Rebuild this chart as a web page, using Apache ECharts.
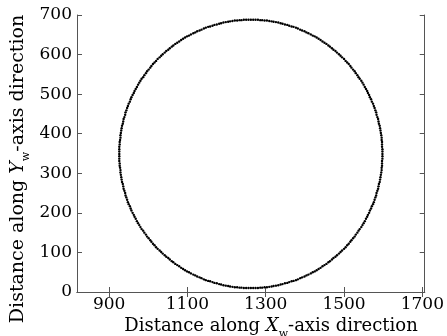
<!DOCTYPE html>
<html>
<head>
<meta charset="utf-8">
<script src="https://cdn.jsdelivr.net/npm/echarts@6/dist/echarts.min.js"></script>
<style>
html,body{margin:0;padding:0;background:#fff;}
#chart{width:447px;height:336px;}
</style>
</head>
<body>
<div id="chart"></div>
<script>
// Point positions (traced around the ring)
const xValues = [
1598,1598,1598,1597,1597,1597,1596,1596,1595,1594,
1593,1592,1591,1589,1588,1587,1585,1583,1582,1580,
1578,1576,1574,1571,1569,1566,1564,1561,1559,1556,
1553,1550,1547,1544,1540,1537,1534,1530,1527,1523,
1519,1516,1512,1508,1504,1500,1495,1491,1487,1482,
1478,1473,1469,1464,1460,1455,1450,1445,1440,1435,
1430,1425,1420,1415,1409,1404,1399,1393,1388,1382,
1377,1371,1366,1360,1355,1349,1343,1338,1332,1326,
1320,1315,1309,1303,1297,1291,1286,1280,1274,1268,
1262,
1256,1250,1244,1238,1233,1227,1221,1215,1209,1204,
1198,1192,1186,1181,1175,1169,1164,1158,1153,1147,
1142,1136,1131,1125,1120,1115,1109,1104,1099,1094,
1089,1084,1079,1074,1069,1064,1060,1055,1051,1046,
1042,1037,1033,1029,1024,1020,1016,1012,1008,1005,
1001,997,994,990,987,983,980,977,974,971,
968,965,963,960,957,955,953,950,948,946,
944,942,941,939,937,936,935,933,932,931,
930,929,929,928,927,927,926,926,926,926,
926,926,926,927,927,928,929,929,930,931,
932,933,935,936,937,939,941,942,944,946,
948,950,953,955,957,960,963,965,968,971,
974,977,980,983,987,990,994,997,1001,1005,
1008,1012,1016,1020,1024,1029,1033,1037,1042,1046,
1051,1055,1060,1064,1069,1074,1079,1084,1089,1094,
1099,1104,1109,1115,1120,1125,1131,1136,1142,1147,
1153,1158,1164,1169,1175,1181,1186,1192,1198,1204,
1209,1215,1221,1227,1233,1238,1244,1250,1256,1262,
1268,1274,1280,1286,1291,1297,1303,1309,1315,1320,
1326,1332,1338,1343,1349,1355,1360,1366,1371,1377,
1382,1388,1393,1399,1404,1409,1415,1420,1425,1430,
1435,1440,1445,1450,1455,1460,1464,1469,1473,1478,
1482,1487,1491,1495,1500,1504,1508,1512,1516,1519,
1523,1527,1530,1534,1537,1540,1544,1547,1550,1553,
1556,1559,1561,1564,1566,1569,1571,1574,1576,1578,
1580,1582,1583,1585,1587,1588,1589,1591,1592,1593,
1594,1595,1596,1596,1597,1597,1597,1598,1598
];
const yValues = [
349,355,361,367,373,379,384,390,396,402,
408,414,420,425,431,437,442,448,454,459,
465,470,476,481,487,492,498,503,508,513,
518,524,529,534,539,543,548,553,558,562,
567,571,576,580,584,589,593,597,601,605,
609,612,616,620,623,627,630,633,637,640,
643,646,648,651,654,656,659,661,663,666,
668,670,671,673,675,676,678,679,681,682,
683,684,685,686,686,687,687,688,688,688,
688,
688,688,688,687,687,686,686,685,684,683,
682,681,679,678,676,675,673,671,670,668,
666,663,661,659,656,654,651,648,646,643,
640,637,633,630,627,623,620,616,612,609,
605,601,597,593,589,584,580,576,571,567,
562,558,553,548,543,539,534,529,524,518,
513,508,503,498,492,487,481,476,470,465,
459,454,448,442,437,431,425,420,414,408,
402,396,390,384,379,373,367,361,355,349,
343,337,331,325,319,314,308,302,296,290,
284,278,273,267,261,256,250,244,239,233,
227,222,217,211,206,200,195,190,185,179,
174,169,164,159,155,150,145,140,136,131,
127,122,118,113,109,105,101,97,93,89,
86,82,78,75,71,68,65,61,58,55,
52,50,47,44,42,39,37,35,32,30,
28,27,25,23,22,20,19,17,16,15,
14,13,12,12,11,11,10,10,10,10,
10,10,10,11,11,12,12,13,14,15,
16,17,19,20,22,23,25,27,28,30,
32,35,37,39,42,44,47,50,52,55,
58,61,65,68,71,75,78,82,86,89,
93,97,101,105,109,113,118,122,127,131,
136,140,145,150,155,159,164,169,174,179,
185,190,195,200,206,211,217,222,227,233,
239,244,250,256,261,267,273,278,284,290,
296,302,308,314,319,325,331,337,343
];
const xTickValues = [900, 1100, 1300, 1500, 1700];
const yTickValues = [0, 100, 200, 300, 400, 500, 600, 700];
const xTitle = 'Distance along {i|X}{s|w}-axis direction';
const yTitle = 'Distance along {i|Y}{s|w}-axis direction';

const points = xValues.map((x, i) => [x, yValues[i]]);
const FONT = 'DejaVu Serif';
const axisColor = '#555';
function makeRich(size) {
  return {
    i: {fontFamily: FONT, fontSize: size, fontStyle: 'italic', color: '#000', lineHeight: size + 4},
    s: {fontFamily: FONT, fontSize: 11, color: '#000', lineHeight: 11, padding: [16, 0, 0, 0]}
  };
}
const plain = v => String(v);

const chart = echarts.init(document.getElementById('chart'), null, {renderer: 'canvas'});
const xBase = {
  type: 'value', min: 818, max: 1706,
  axisLine: {show: true, lineStyle: {color: axisColor, width: 1}},
  splitLine: {show: false}
};
const yBase = {
  type: 'value', min: 0, max: 700, interval: 100,
  axisLine: {show: true, lineStyle: {color: axisColor, width: 1}},
  splitLine: {show: false}
};
chart.setOption({
  animation: false,
  backgroundColor: '#fff',
  grid: {left: 77, top: 15, right: 19, bottom: 44, containLabel: false},
  xAxis: [
    Object.assign({}, xBase, {
      position: 'bottom',
      axisTick: {show: true, inside: true, length: 5, customValues: xTickValues, lineStyle: {color: axisColor}},
      axisLabel: {show: true, customValues: xTickValues, formatter: plain, margin: 4, color: '#000', fontFamily: FONT, fontSize: 17}
    }),
    Object.assign({}, xBase, {
      position: 'top',
      axisTick: {show: true, inside: true, length: 5, customValues: xTickValues, lineStyle: {color: axisColor}},
      axisLabel: {show: false}
    })
  ],
  yAxis: [
    Object.assign({}, yBase, {
      position: 'left',
      axisTick: {show: true, inside: true, length: 5, customValues: yTickValues, lineStyle: {color: axisColor}},
      axisLabel: {show: true, customValues: yTickValues, formatter: plain, margin: 5, color: '#000', fontFamily: FONT, fontSize: 17}
    }),
    Object.assign({}, yBase, {
      position: 'right',
      axisTick: {show: true, inside: true, length: 5, customValues: yTickValues, lineStyle: {color: axisColor}},
      axisLabel: {show: false}
    })
  ],
  graphic: [
    {type: 'text', x: 271, y: 326, silent: true,
      style: {text: xTitle, rich: makeRich(18), fontFamily: FONT, fontSize: 18, fill: '#000', align: 'center', verticalAlign: 'middle'}},
    {type: 'text', x: 18, y: 169, rotation: Math.PI / 2, silent: true,
      style: {text: yTitle, rich: makeRich(19), fontFamily: FONT, fontSize: 19, fill: '#000', align: 'center', verticalAlign: 'middle'}}
  ],
  series: [{
    type: 'scatter',
    xAxisIndex: 0, yAxisIndex: 0,
    data: points,
    symbol: 'circle',
    symbolSize: 2.4,
    itemStyle: {color: '#000', opacity: 1}
  }]
});
</script>
</body>
</html>
